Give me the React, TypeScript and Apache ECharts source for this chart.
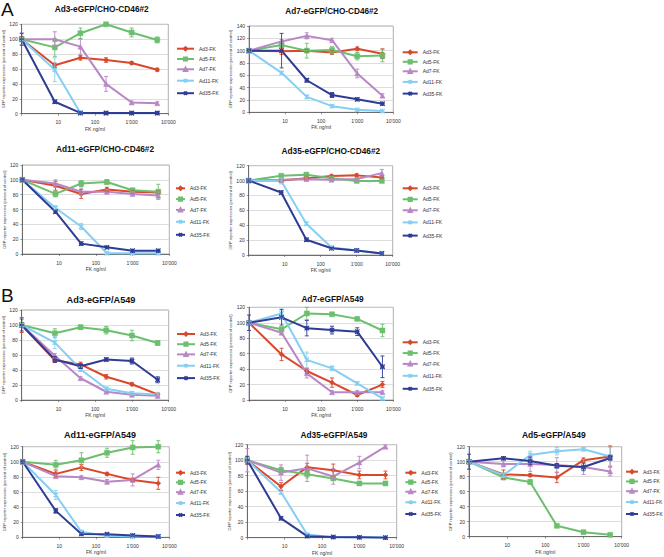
import React, { useEffect, useRef } from "react";
import * as echarts from "echarts";

// ---------- DATA ----------
const doses = [1, 8, 40, 200, 1000, 5000];
const virusNames = ["Ad3-FK", "Ad5-FK", "Ad7-FK", "Ad11-FK", "Ad35-FK"];
const panelTitles = [
  "Ad3-eGFP/CHO-CD46#2",
  "Ad7-eGFP/CHO-CD46#2",
  "Ad11-eGFP/CHO-CD46#2",
  "Ad35-eGFP/CHO-CD46#2",
  "Ad3-eGFP/A549",
  "Ad7-eGFP/A549",
  "Ad11-eGFP/A549",
  "Ad35-eGFP/A549",
  "Ad5-eGFP/A549",
];
const yMaxima = [120, 140, 120, 120, 120, 120, 120, 120, 120];
const xTickLabels: Record<number, string> = { 10: "10", 100: "100", 1000: "1'000", 10000: "10'000" };
const yAxisTitle = "GFP reporter expression (percent of control)";
const xAxisTitle = "FK ng/ml";
const panelLetters = ["A", "B"];

// means / error (± half-range) per panel, rows = Ad3, Ad5, Ad7, Ad11, Ad35
const ad3ChoMeans = [
  [100, 65, 75, 72, 68, 59],
  [100, 89, 108, 120, 109, 99],
  [100, 100, 90, 40, 15, 14],
  [100, 59, 1, 0.5, 0.5, 0.5],
  [100, 16, 1, 1, 1, 1],
];
const ad3ChoErr = [
  [3, 3, 3, 3, 2, 2],
  [2, 12, 7, 2, 6, 4],
  [8, 10, 10, 10, 2, 2],
  [2, 16, 1, 0, 0, 0],
  [8, 2, 1, 1, 1, 1],
];
const ad7ChoMeans = [
  [100, 99, 100, 97, 103, 95],
  [100, 109, 100, 101, 91, 92],
  [100, 115, 124, 117, 63, 27],
  [100, 64, 25, 10, 4, 2],
  [100, 100, 52, 28, 21, 14],
];
const ad7ChoErr = [
  [2, 5, 2, 3, 3, 8],
  [2, 3, 12, 6, 6, 10],
  [2, 3, 5, 3, 7, 3],
  [2, 2, 3, 2, 1, 1],
  [2, 28, 3, 4, 2, 2],
];
const ad11ChoMeans = [
  [100, 92, 81, 87, 84, 83],
  [100, 81, 95, 97, 86, 84],
  [100, 95, 84, 84, 81, 79],
  [100, 62, 37, 1, 1, 1],
  [100, 57, 14, 9, 4.5, 4.5],
];
const ad11ChoErr = [
  [2, 6, 6, 3, 2, 2],
  [2, 4, 4, 3, 2, 10],
  [2, 5, 5, 3, 2, 5],
  [2, 3, 4, 1, 0, 0],
  [2, 2, 2, 1, 1, 1],
];
const ad35ChoMeans = [
  [100, 100, 103, 106, 107, 104],
  [100, 106.5, 108, 103, 99.5, 99.5],
  [100, 101, 102, 101, 102, 110],
  [100, 99.5, 42, 10, 6, 2],
  [100, 84, 20.5, 9, 6, 2],
];
const ad35ChoErr = [
  [1, 2, 3, 2, 2, 2],
  [1, 2, 2, 2, 2, 2],
  [1, 3, 2, 2, 2, 5],
  [1, 4, 2, 2, 1, 1],
  [1, 2, 2, 1, 1, 1],
];
const ad3A549Means = [
  [100, 53, 47.5, 31, 21, 7.5],
  [100, 89, 97, 93, 86, 76],
  [100, 59, 29, 11, 7, 5.5],
  [100, 76.5, 41, 15, 9, 7.5],
  [100, 54, 45, 54, 52, 27],
];
const ad3A549Err = [
  [10, 3, 3, 3, 2, 1],
  [2, 6, 3, 5, 7, 3],
  [2, 3, 2, 2, 1, 1],
  [2, 8, 3, 2, 2, 1],
  [8, 4, 3, 2, 4, 4],
];
const ad7A549Means = [
  [100, 59, 37.5, 22.5, 6.5, 20],
  [100, 91.5, 112, 111, 105, 90],
  [100, 87, 34.5, 10, 10, 10],
  [100, 112, 52, 41, 21.5, 2],
  [100, 107, 93, 90.5, 88.5, 43],
];
const ad7A549Err = [
  [2, 8, 3, 6, 2, 4],
  [2, 3, 8, 2, 2, 8],
  [2, 2, 6, 2, 2, 2],
  [2, 6, 10, 3, 2, 1],
  [10, 10, 10, 5, 5, 14],
];
const ad11A549Means = [
  [100, 84, 92.5, 84, 76, 71.5],
  [100, 96, 102, 112, 119, 120],
  [100, 81, 79.5, 73.5, 76, 96],
  [100, 56, 7, 2, 1, 1],
  [100, 35, 4.5, 4, 2.5, 1],
];
const ad11A549Err = [
  [2, 4, 4, 2, 2, 8],
  [2, 6, 10, 6, 9, 8],
  [2, 2, 2, 3, 8, 6],
  [2, 6, 2, 1, 1, 1],
  [2, 3, 1, 1, 1, 1],
];
const ad35A549Means = [
  [100, 66, 91, 87, 81, 81],
  [100, 87, 82, 76.5, 70, 70],
  [100, 84, 89.5, 79, 97, 117.5],
  [100, 59, 4, 0.5, 0.5, 0.5],
  [100, 25, 2, 1, 0.5, 0],
];
const ad35A549Err = [
  [5, 5, 5, 8, 5, 5],
  [2, 4, 5, 2, 2, 2],
  [15, 10, 17, 10, 8, 2],
  [2, 3, 1, 0, 0, 0],
  [5, 2, 1, 1, 1, 1],
];
const ad5A549Means = [
  [100, 83, 82, 79, 102, 107],
  [100, 79, 73, 14.5, 6, 2.5],
  [100, 97, 97, 95.5, 93, 87],
  [100, 82, 109, 114, 116.5, 107],
  [100, 104.5, 101, 94.5, 93, 105],
];
const ad5A549Err = [
  [2, 6, 2, 7, 3, 14],
  [2, 3, 3, 2, 1, 1],
  [2, 4, 10, 10, 10, 6],
  [2, 3, 5, 5, 2, 12],
  [10, 2, 5, 3, 5, 3],
];

const panelMeans = [ad3ChoMeans, ad7ChoMeans, ad11ChoMeans, ad35ChoMeans, ad3A549Means, ad7A549Means, ad11A549Means, ad35A549Means, ad5A549Means];
const panelErrs = [ad3ChoErr, ad7ChoErr, ad11ChoErr, ad35ChoErr, ad3A549Err, ad7A549Err, ad11A549Err, ad35A549Err, ad5A549Err];

// ---------- LAYOUT / STYLE ----------
const FONT = "'Liberation Sans', Arial, sans-serif";
const seriesColors = ["#d8482b", "#6cbf6e", "#b987c6", "#84cff3", "#2f3c94"];
const seriesSymbols = [
  "diamond",
  "rect",
  "triangle",
  "path://M0,0L10,10M10,0L0,10M5,0L5,10",
  "path://M0,0L10,10M10,0L0,10M0,5L10,5M5,0L5,10",
];
const gridBoxes = [
  { left: 21.7, top: 24.3, width: 146.6, height: 89.4 },
  { left: 249, top: 26, width: 144.3, height: 86.3 },
  { left: 22.3, top: 165, width: 147, height: 89 },
  { left: 248.7, top: 165.7, width: 144, height: 89.3 },
  { left: 21.7, top: 310, width: 147, height: 90 },
  { left: 249, top: 307.3, width: 144.3, height: 92.7 },
  { left: 22.7, top: 446.7, width: 146.6, height: 90.6 },
  { left: 247.3, top: 444.7, width: 149.4, height: 93 },
  { left: 469, top: 446.7, width: 152.7, height: 90 },
];
const titleBoxes = [
  { x: 101.7, y: 8.5, size: 8.3 },
  { x: 331.7, y: 11, size: 8.2 },
  { x: 105, y: 148.5, size: 8.3 },
  { x: 330.8, y: 151, size: 8.3 },
  { x: 101, y: 300, size: 9.2 },
  { x: 332.5, y: 298.5, size: 8.3 },
  { x: 100, y: 435, size: 9 },
  { x: 334, y: 435, size: 8.3 },
  { x: 553.8, y: 435, size: 8.5 },
];
const legendBoxes = [
  { left: 176, first: 48.7, gap: 10.3, w: 17 },
  { left: 401.7, first: 52.3, gap: 9.5, w: 15 },
  { left: 175, first: 188.3, gap: 10.8, w: 9 },
  { left: 401.7, first: 188.3, gap: 11, w: 15 },
  { left: 176, first: 334, gap: 10.2, w: 18 },
  { left: 401.7, first: 342.3, gap: 10.8, w: 15 },
  { left: 175, first: 472.7, gap: 9.75, w: 9 },
  { left: 404.3, first: 472.7, gap: 9.5, w: 11 },
  { left: 625, first: 471.7, gap: 9.75, w: 12 },
];
const letterBoxes = [
  { x: 1, y: 0 },
  { x: 1, y: 286 },
];

function buildOption() {
  const grid: any[] = [];
  const xAxis: any[] = [];
  const yAxis: any[] = [];
  const series: any[] = [];
  const legend: any[] = [];
  const graphic: any[] = [];

  panelTitles.forEach((title, p) => {
    const g = gridBoxes[p];
    grid.push({ ...g, show: true, borderColor: "#9a9a9a", borderWidth: 0.8, backgroundColor: "transparent" });
    xAxis.push({
      gridIndex: p,
      type: "log",
      logBase: 10,
      min: 1,
      max: 10000,
      name: xAxisTitle,
      nameLocation: "middle",
      nameGap: 12.5,
      nameTextStyle: { fontSize: 5, fontFamily: FONT, color: "#333" },
      axisLine: { lineStyle: { color: "#555", width: 0.8 } },
      axisTick: { show: true, length: 2, lineStyle: { color: "#555", width: 0.6 } },
      splitLine: { show: false },
      minorTick: { show: false },
      axisLabel: {
        fontSize: 5,
        fontFamily: FONT,
        color: "#333",
        margin: 6,
        formatter: (v: number) => xTickLabels[Math.round(v)] || "",
      },
    });
    yAxis.push({
      gridIndex: p,
      type: "value",
      min: 0,
      max: yMaxima[p],
      interval: 20,
      name: yAxisTitle,
      nameLocation: "middle",
      nameGap: 12.5,
      nameTextStyle: { fontSize: 4, fontFamily: FONT, color: "#333" },
      axisLine: { show: true, lineStyle: { color: "#555", width: 0.8 } },
      axisTick: { show: true, length: 2, lineStyle: { color: "#555", width: 0.6 } },
      splitLine: { show: true, lineStyle: { color: "#cfcfcf", width: 0.7 } },
      axisLabel: { fontSize: 5, fontFamily: FONT, color: "#333", margin: 4 },
    });

    const means = panelMeans[p];
    const errs = panelErrs[p];
    virusNames.forEach((name, s) => {
      const color = seriesColors[s];
      const isPath = s >= 3;
      series.push({
        type: "line",
        name,
        xAxisIndex: p,
        yAxisIndex: p,
        data: doses.map((d, i) => [d, means[s][i]]),
        lineStyle: { color, width: 2 },
        symbol: seriesSymbols[s],
        symbolSize: isPath ? 4.5 : 5,
        showSymbol: true,
        itemStyle: isPath
          ? { color: "none", borderColor: color, borderWidth: 1.2 }
          : { color, borderColor: color, borderWidth: 0.5 },
        z: 2,
        silent: true,
      });
      const errData = doses
        .map((d, i) => [d, means[s][i] - errs[s][i], means[s][i] + errs[s][i], errs[s][i]])
        .filter((r) => r[3] > 0.6);
      series.push({
        type: "custom",
        name: "err-" + p + "-" + s,
        xAxisIndex: p,
        yAxisIndex: p,
        data: errData,
        encode: { x: 0, y: [1, 2] },
        z: 3,
        silent: true,
        renderItem: (params: any, api: any) => {
          const x = api.value(0);
          const lo = api.value(1);
          const hi = api.value(2);
          const a = api.coord([x, hi]);
          const b = api.coord([x, lo]);
          const w = 2;
          const st = { stroke: color, lineWidth: 0.9 };
          return {
            type: "group",
            children: [
              { type: "line", shape: { x1: a[0], y1: a[1], x2: b[0], y2: b[1] }, style: st },
              { type: "line", shape: { x1: a[0] - w, y1: a[1], x2: a[0] + w, y2: a[1] }, style: st },
              { type: "line", shape: { x1: b[0] - w, y1: b[1], x2: b[0] + w, y2: b[1] }, style: st },
            ],
          };
        },
      });
    });

    const lb = legendBoxes[p];
    legend.push({
      orient: "vertical",
      left: lb.left,
      top: lb.first - 3,
      padding: 0,
      itemWidth: lb.w,
      itemHeight: 4,
      itemGap: lb.gap - 6,
      selectedMode: false,
      data: virusNames,
      lineStyle: { width: 2 },
      textStyle: { fontSize: 5, lineHeight: 6, fontFamily: FONT, color: "#333" },
    });

    const t = titleBoxes[p];
    graphic.push({
      type: "text",
      x: t.x,
      y: t.y,
      silent: true,
      style: {
        text: title,
        align: "center",
        verticalAlign: "middle",
        fontSize: t.size,
        fontWeight: "bold",
        fontFamily: FONT,
        fill: "#111",
      },
    });
  });

  panelLetters.forEach((l, i) => {
    graphic.push({
      type: "text",
      x: letterBoxes[i].x,
      y: letterBoxes[i].y,
      silent: true,
      style: { text: l, fontSize: 19, fontFamily: FONT, fill: "#111", align: "left", verticalAlign: "top" },
    });
  });

  return {
    animation: false,
    backgroundColor: "#ffffff",
    grid,
    xAxis,
    yAxis,
    legend,
    graphic,
    series,
  };
}

export default function App() {
  const ref = useRef<HTMLDivElement>(null);
  useEffect(() => {
    if (!ref.current) return;
    const chart = echarts.init(ref.current, undefined, { renderer: "svg" });
    chart.setOption(buildOption() as any);
    return () => chart.dispose();
  }, []);
  return (
    <div
      ref={ref}
      style={{ position: "fixed", left: 0, top: 0, width: 664, height: 557, background: "#fff" }}
    />
  );
}
